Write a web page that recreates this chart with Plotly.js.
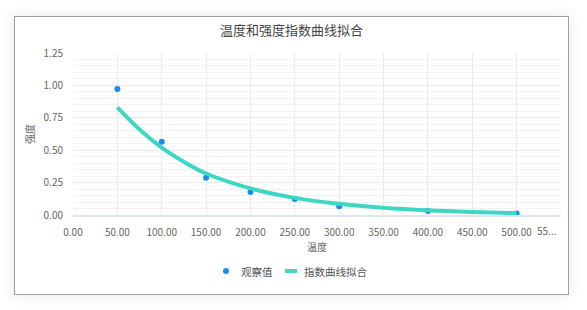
<!DOCTYPE html>
<html><head><meta charset="utf-8">
<script src="https://cdn.plot.ly/plotly-3.0.1.min.js"></script>
<style>
html,body{margin:0;padding:0;background:#fff;width:587px;height:310px;overflow:hidden;}
#card{position:absolute;left:14px;top:16px;width:553px;height:277px;border:1px solid #a0a0a0;background:#fff;box-shadow:0 0 14px rgba(0,0,0,0.10);}
#chart{width:553px;height:277px;}
</style></head><body>
<div id="card"><div id="chart"></div></div>
<script>
var obsX = [50, 100, 150, 200, 250, 300, 400, 500];
var obsY = [0.972, 0.565, 0.287, 0.178, 0.124, 0.068, 0.031, 0.012];
var fitX = [50, 75, 100, 125, 150, 200, 250, 300, 350, 400, 450, 500];
var fitY = [0.83, 0.66, 0.52, 0.41, 0.32, 0.205, 0.132, 0.086, 0.056, 0.036, 0.023, 0.014];
var xTickVals = [0, 50, 100, 150, 200, 250, 300, 350, 400, 450, 500, 550];
var xTickText = ['0.00','50.00','100.00','150.00','200.00','250.00','300.00','350.00','400.00','450.00','500.00','55...'];
var yTickVals = [0, 0.25, 0.5, 0.75, 1.0, 1.25];
var yTickText = ['0.00','0.25','0.50','0.75','1.00','1.25'];
var seriesNames = ['观察值', '指数曲线拟合'];
var obsColor = '#1a8cf0', fitColor = '#3dd8c4';
var font = '"Noto Sans CJK SC", "Noto Sans", sans-serif';

var traces = [
  {x: obsX, y: obsY, type: 'scatter', mode: 'markers', name: seriesNames[0],
   marker: {color: obsColor, size: 6}, showlegend: false},
  {x: fitX, y: fitY, type: 'scatter', mode: 'lines', name: seriesNames[1],
   line: {color: fitColor, width: 4, shape: 'spline', smoothing: 1}, showlegend: false}
];

// last tick label is drawn shifted left (truncated label as in the reference)
var shownTickText = xTickText.slice(0, -1).concat(['']);

var legY = -0.3457;
var layout = {
  width: 553, height: 277,
  margin: {l: 58, r: 7, t: 36, b: 79},
  paper_bgcolor: '#fff', plot_bgcolor: '#fff',
  font: {family: font, size: 10, color: '#666'},
  title: {text: '温度和强度指数曲线拟合', font: {family: font, size: 13, color: '#444'},
          x: 0.5, xanchor: 'center', y: 0.953, yanchor: 'middle'},
  xaxis: {range: [0, 550], tickmode: 'array', tickvals: xTickVals, ticktext: shownTickText,
          showgrid: true, gridcolor: '#ececf0', gridwidth: 1,
          zeroline: false, showline: true, linecolor: '#dfe5f2', linewidth: 2,
          ticks: '', ticklabelstandoff: 7, tickfont: {size: 10, color: '#666'},
          title: {text: '温度', font: {size: 10, color: '#666'}, standoff: 6},
          fixedrange: true},
  yaxis: {range: [0, 1.25], tickmode: 'array', tickvals: yTickVals, ticktext: yTickText,
          showgrid: true, gridcolor: '#ebebeb', gridwidth: 1,
          minor: {dtick: 0.05, showgrid: true, gridcolor: '#f2f2f2', gridwidth: 1},
          zeroline: false, showline: false, ticks: '', ticklabelstandoff: 9,
          tickfont: {size: 10, color: '#666'},
          title: {text: '强度', font: {size: 10, color: '#666'}, standoff: 7},
          fixedrange: true},
  showlegend: false,
  shapes: [
    {type: 'circle', xref: 'paper', yref: 'paper', xsizemode: 'pixel', ysizemode: 'pixel',
     xanchor: 0.3135, yanchor: legY, x0: -3, x1: 3, y0: -3, y1: 3,
     fillcolor: obsColor, line: {width: 0}},
    {type: 'line', xref: 'paper', yref: 'paper', x0: 0.4344, x1: 0.4590, y0: legY, y1: legY,
     line: {color: fitColor, width: 4}}
  ],
  annotations: [
    {text: xTickText[xTickText.length - 1], x: xTickVals[xTickVals.length - 1], xref: 'x',
     y: -0.0926, yref: 'paper', xanchor: 'right', yanchor: 'middle', xshift: -2,
     showarrow: false, font: {size: 10, color: '#666'}},
    {text: seriesNames[0], xref: 'paper', yref: 'paper', x: 0.3402, y: legY,
     xanchor: 'left', yanchor: 'middle', showarrow: false, font: {size: 10.5, color: '#555'}},
    {text: seriesNames[1], xref: 'paper', yref: 'paper', x: 0.4693, y: legY,
     xanchor: 'left', yanchor: 'middle', showarrow: false, font: {size: 10.5, color: '#555'}}
  ]
};
Plotly.newPlot('chart', traces, layout, {displayModeBar: false, staticPlot: true});
</script>
</body></html>
